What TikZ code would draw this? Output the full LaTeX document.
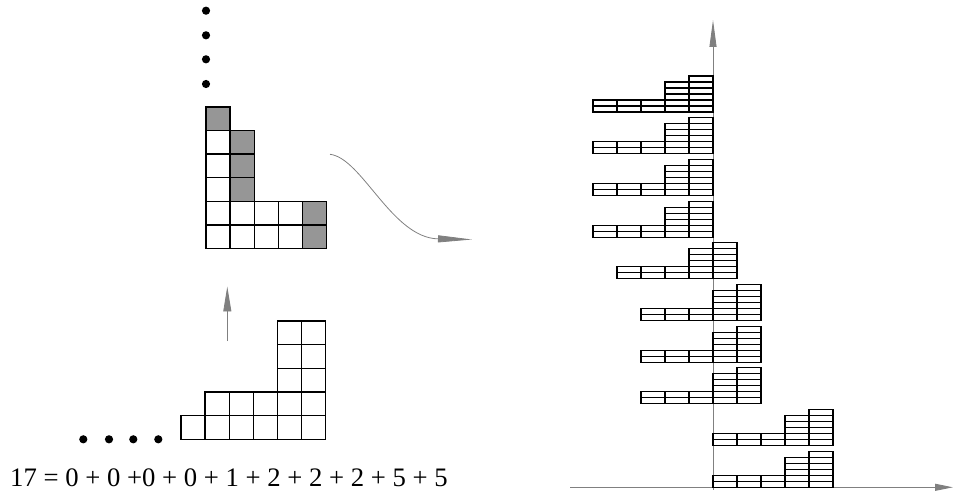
\documentclass[tikz,border=0pt]{standalone}
\usepackage{fontspec}
\setmainfont{Liberation Serif}
\usetikzlibrary{arrows.meta}
\definecolor{axisgray}{RGB}{128,128,128}
\definecolor{cellgray}{RGB}{150,150,150}
\tikzset{
  gridline/.style={draw=black, line width=1.3pt},
  graycell/.style={gridline, fill=cellgray},
  miniline/.style={draw=black, line width=1.1pt},
  axisline/.style={draw=axisgray, line width=0.9pt},
  dotmark/.style={fill=black, draw=none},
  pics/mini/.style={code={
    \foreach \c in {0,...,4}{
      \foreach \r in {0,1}{\draw[miniline] (24*\c,-6*\r) rectangle ++(24,-6);}
    }
    \foreach \c in {3,4}{
      \foreach \r in {2,3,4}{\draw[miniline] (24*\c,-6*\r) rectangle ++(24,-6);}
    }
    \draw[miniline] (96,-30) rectangle ++(24,-6);
  }}
}
\begin{document}
\begin{tikzpicture}[x=1pt,y=-1pt]
\useasboundingbox (0,0) rectangle (953,494);
% ---------- top-left diagram ----------
\def\cw{24.1}\def\ch{23.6}
\begin{scope}[shift={(206,248.5)}]
  \foreach \c in {0,...,3}{\foreach \r in {0,1}{\draw[gridline] (\cw*\c,-\ch*\r) rectangle ++(\cw,-\ch);}}
  \foreach \r in {0,1}{\draw[graycell] (\cw*4,-\ch*\r) rectangle ++(\cw,-\ch);}
  \foreach \r in {2,3,4}{\draw[gridline] (0,-\ch*\r) rectangle ++(\cw,-\ch);
                         \draw[graycell] (\cw,-\ch*\r) rectangle ++(\cw,-\ch);}
  \draw[graycell] (0,-\ch*5) rectangle ++(\cw,-\ch);
\end{scope}
\foreach \y [count=\i] in {10.7,35.3,59.3,84}{\fill[dotmark] (206,\y) circle (4.1) coordinate (vd\i);}
% ---------- bottom-left diagram ----------
\begin{scope}[shift={(181,439.5)}]
  \foreach \c in {0,...,5}{\draw[gridline] (\cw*\c,0) rectangle ++(\cw,-23.7);}
  \foreach \c in {1,...,5}{\draw[gridline] (\cw*\c,-23.7) rectangle ++(\cw,-23.7);}
  \foreach \c in {4,5}{\foreach \r in {2,3,4}{\draw[gridline] (\cw*\c,-23.7*\r) rectangle ++(\cw,-23.7);}}
\end{scope}
\foreach \x [count=\i] in {83.3,109,133.3,158.3}{\fill[dotmark] (\x,439.3) circle (4.1) coordinate (hd\i);}
% up arrow
\coordinate (upS) at (227.3,341);
\coordinate (upE) at (227.3,286.5);
\draw[axisline, -{Triangle[length=25pt,width=8pt]}] (upS) -- (upE);
% curved arrow
\coordinate (cvS) at (330,154.3);
\coordinate (cvE) at (472,239.5);
\draw[axisline, line width=0.8pt, -{Triangle[length=34pt,width=7pt]}] (cvS) .. controls (362,158) and (392,238) .. (cvE);
% equation
\node[anchor=base west, inner sep=0pt, font=\fontsize{26.7}{30}\selectfont] (eq) at (10,486.7) {17 = 0 + 0 +0 + 0 + 1 + 2 + 2 + 2 + 5 + 5};
% ---------- right diagram ----------
\coordinate (O) at (713,487.3);
\coordinate (yT) at (713,20);
\coordinate (xL) at (570,487.3);
\coordinate (xR) at (953,487.3);
\draw[axisline] (O) -- (713,490);
\draw[axisline, -{Triangle[length=27pt,width=7pt]}] (O) -- (yT);
\draw[axisline, -{Triangle[length=18pt,width=7pt]}] (xL) -- (xR);
\foreach \s [count=\k from 0] in {0,0,0,0,1,2,2,2,5,5}{
  \pic at ({593+24*\s},{112+41.7*\k}) {mini};
}
\end{tikzpicture}
\end{document}
